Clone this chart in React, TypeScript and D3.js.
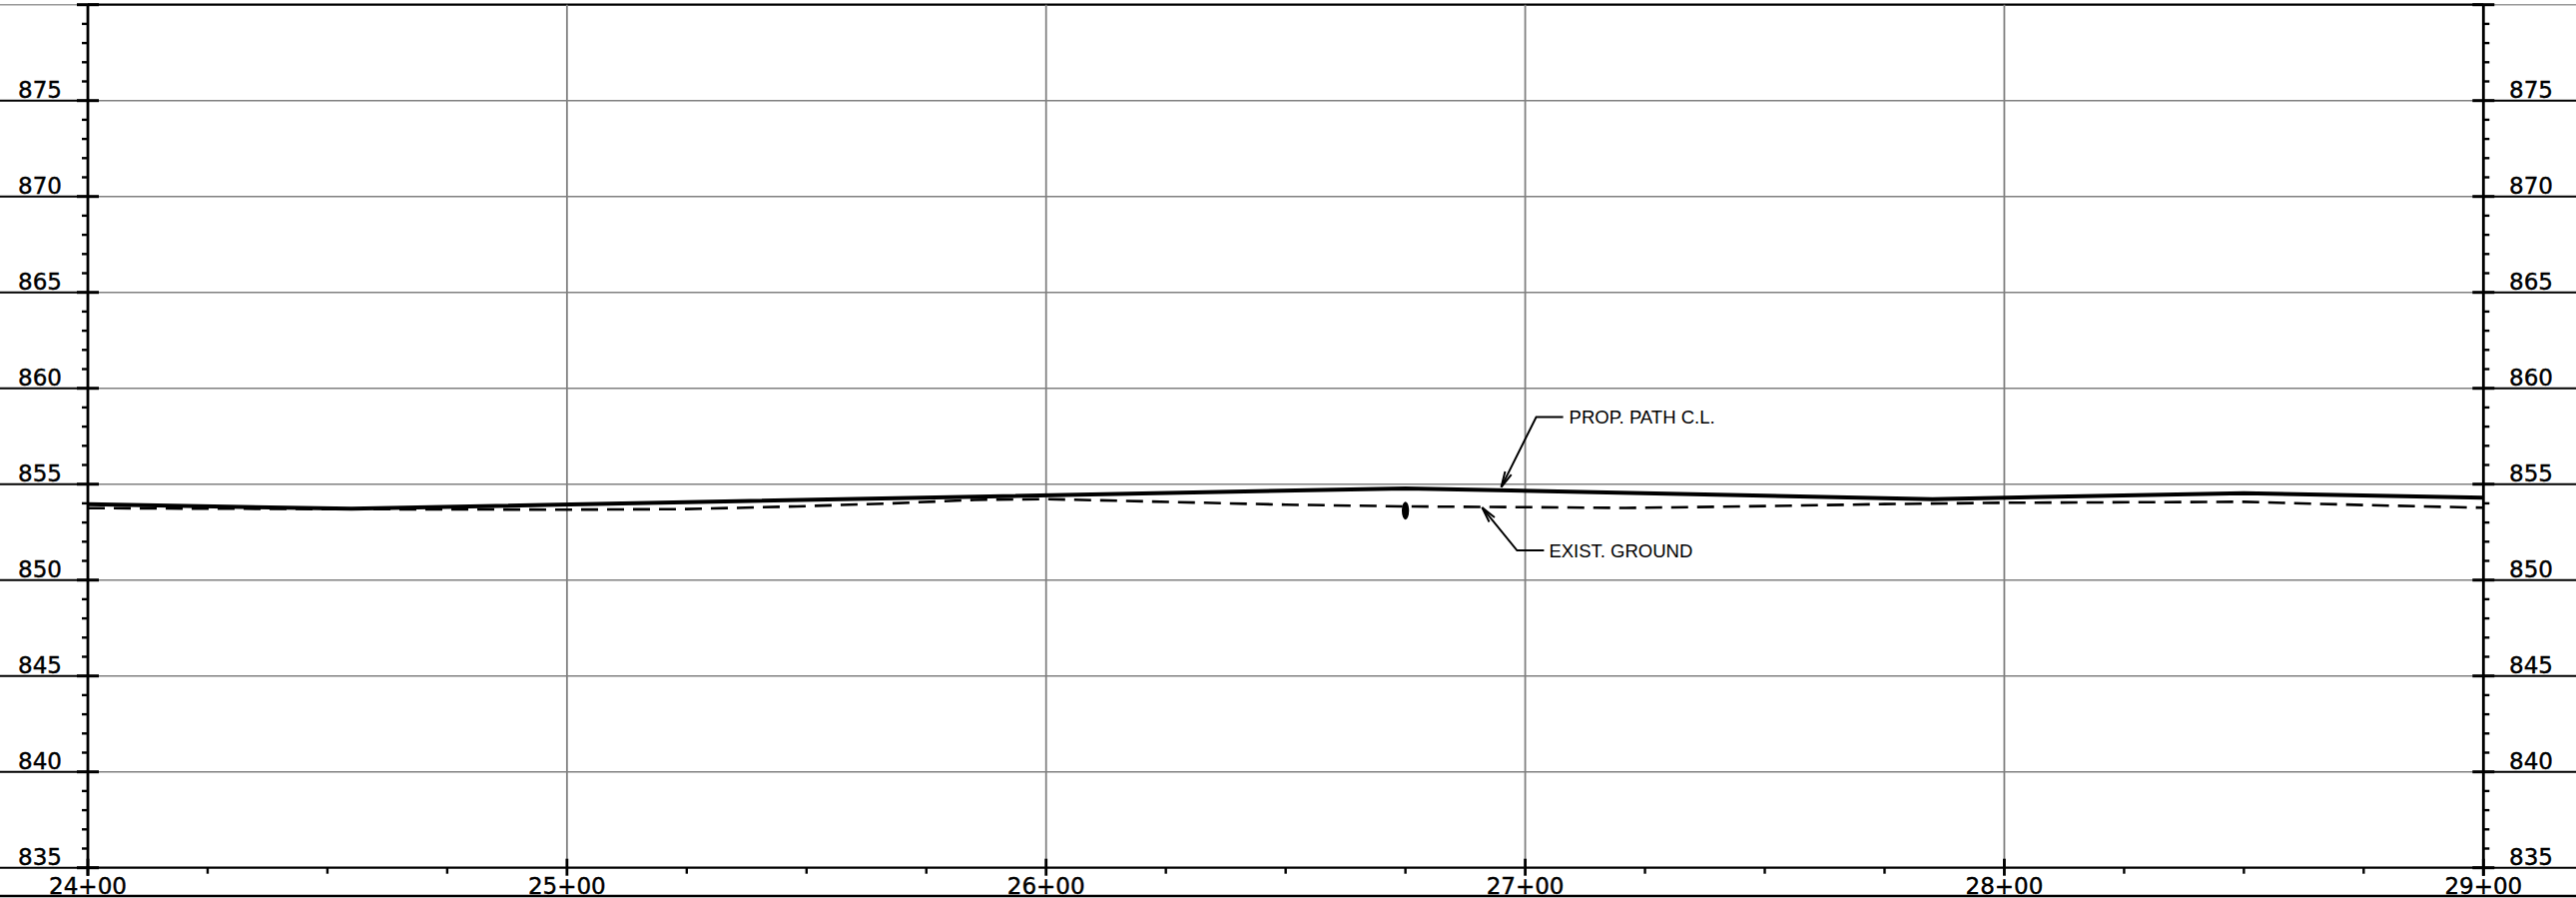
import React from "react";
import * as d3 from "d3";

const stationTicks = [2400, 2500, 2600, 2700, 2800, 2900];
const stationLabels = ["24+00", "25+00", "26+00", "27+00", "28+00", "29+00"];
const elevTicks = [835, 840, 845, 850, 855, 860, 865, 870, 875, 880];
const elevLabels = ["835", "840", "845", "850", "855", "860", "865", "870", "875", ""];

const propStations = [2400, 2455, 2675, 2785, 2850, 2900];
const propElev = [853.95, 853.72, 854.78, 854.22, 854.53, 854.29];

const groundStations = [2400, 2450, 2500, 2525, 2548, 2568, 2585, 2600, 2621, 2650, 2675, 2700, 2721, 2746, 2775, 2800, 2850, 2875, 2900];
const groundElev = [853.75, 853.7, 853.67, 853.7, 853.84, 854.0, 854.18, 854.22, 854.1, 853.93, 853.84, 853.8, 853.76, 853.84, 853.96, 854.03, 854.08, 853.91, 853.77];

const markerStation = [2675];
const markerElev = [853.62];

const annotLabels = ["PROP. PATH C.L.", "EXIST. GROUND"];
const annotStation = [2695, 2691];
const annotElev = [854.85, 853.78];

const W = 2580;
const H = 899;

export default function App() {
  const x = d3.scaleLinear().domain([2400, 2900]).range([88, 2487.3]);
  const y = d3.scaleLinear().domain([835, 880]).range([868.7, 4.7]);
  const xL = x(2400);
  const xR = x(2900);
  const yTop = y(880);
  const yBot = y(835);

  const minorY = d3.range(836, 880).filter((v) => v % 5 !== 0);
  const minorX = d3.range(2425, 2900, 25).filter((v) => v % 100 !== 0);

  const propData = propStations.map((s, i) => [s, propElev[i]] as [number, number]);
  const groundData = groundStations.map((s, i) => [s, groundElev[i]] as [number, number]);
  const line = d3
    .line<[number, number]>()
    .x((d) => x(d[0]))
    .y((d) => y(d[1]));

  // leader geometry (pixel offsets from tip)
  const leaders = [
    { dx1: 35, dy1: -70, dx2: 62, tx: 68 },
    { dx1: 35, dy1: 43, dx2: 62, tx: 67 },
  ];

  const arrowHead = (tx: number, ty: number, fx: number, fy: number) => {
    const ang = Math.atan2(fy - ty, fx - tx);
    const len = 16;
    const spread = 0.22;
    const a1 = ang + spread;
    const a2 = ang - spread;
    return `M${tx + len * Math.cos(a1)},${ty + len * Math.sin(a1)}L${tx},${ty}L${tx + len * Math.cos(a2)},${ty + len * Math.sin(a2)}`;
  };

  const numFont = "'DejaVu Sans', sans-serif";
  const txtFont = "'Liberation Sans', Arial, sans-serif";

  return (
    <svg
      width={W}
      height={H}
      style={{ position: "absolute", left: 0, top: 0, background: "#fff" }}
    >
      <rect x={0} y={0} width={W} height={H} fill="#fff" />
      {/* horizontal grid */}
      {elevTicks.map((v) => {
        const yy = y(v);
        const isTop = v === 880;
        const isBot = v === 835;
        const inColor = isTop || isBot ? "#000" : "#808080";
        const outColor = isTop ? "#9a9a9a" : "#000";
        return (
          <g key={"h" + v}>
            <line x1={xL} x2={xR} y1={yy} y2={yy} stroke={inColor} strokeWidth={isTop || isBot ? 2.2 : 1.6} />
            <line x1={0} x2={xL} y1={yy} y2={yy} stroke={outColor} strokeWidth={isTop ? 1.4 : 2} />
            <line x1={xR} x2={W} y1={yy} y2={yy} stroke={outColor} strokeWidth={isTop ? 1.4 : 2} />
          </g>
        );
      })}
      {/* vertical grid */}
      {stationTicks.slice(1, -1).map((s) => (
        <line key={"v" + s} x1={x(s)} x2={x(s)} y1={yTop} y2={yBot} stroke="#808080" strokeWidth={1.8} />
      ))}
      {/* bottom frame line */}
      <line x1={0} x2={W} y1={897} y2={897} stroke="#000" strokeWidth={2.5} />
      {/* axes */}
      <line x1={xL} x2={xL} y1={yTop} y2={yBot + 8} stroke="#000" strokeWidth={2.8} />
      <line x1={xR} x2={xR} y1={yTop} y2={yBot + 8} stroke="#000" strokeWidth={2.8} />
      {/* y major ticks */}
      {elevTicks.map((v) => (
        <g key={"ym" + v}>
          <line x1={xL - 11} x2={xL + 11} y1={y(v)} y2={y(v)} stroke="#000" strokeWidth={3} />
          <line x1={xR - 11} x2={xR + 11} y1={y(v)} y2={y(v)} stroke="#000" strokeWidth={3} />
        </g>
      ))}
      {/* y minor ticks */}
      {minorY.map((v) => (
        <g key={"yn" + v}>
          <line x1={xL - 6} x2={xL} y1={y(v)} y2={y(v)} stroke="#000" strokeWidth={2.4} />
          <line x1={xR} x2={xR + 6} y1={y(v)} y2={y(v)} stroke="#000" strokeWidth={2.4} />
        </g>
      ))}
      {/* x major ticks */}
      {stationTicks.map((s) => (
        <line key={"xm" + s} x1={x(s)} x2={x(s)} y1={yBot - 9} y2={yBot + 8} stroke="#000" strokeWidth={2.8} />
      ))}
      {/* x minor ticks */}
      {minorX.map((s) => (
        <line key={"xn" + s} x1={x(s)} x2={x(s)} y1={yBot} y2={yBot + 6} stroke="#000" strokeWidth={2.4} />
      ))}
      {/* y labels */}
      {elevTicks.map((v, i) =>
        elevLabels[i] ? (
          <g key={"yl" + v}>
            <text x={62} y={y(v) - 2.5} textAnchor="end" fontFamily={numFont} fontSize={23} fill="#000" stroke="#000" strokeWidth={0.4}>
              {elevLabels[i]}
            </text>
            <text x={2513} y={y(v) - 2.5} textAnchor="start" fontFamily={numFont} fontSize={23} fill="#000" stroke="#000" strokeWidth={0.4}>
              {elevLabels[i]}
            </text>
          </g>
        ) : null
      )}
      {/* x labels */}
      {stationTicks.map((s, i) => (
        <text key={"xl" + s} x={x(s)} y={894.5} textAnchor="middle" fontFamily={numFont} fontSize={23} fill="#000" stroke="#000" strokeWidth={0.4}>
          {stationLabels[i]}
        </text>
      ))}
      {/* existing ground */}
      <path d={line(groundData) || ""} fill="none" stroke="#000" strokeWidth={2.6} strokeDasharray="17 9" />
      {/* proposed */}
      <path d={line(propData) || ""} fill="none" stroke="#000" strokeWidth={4} strokeLinejoin="round" />
      {/* marker */}
      {markerStation.map((s, i) => (
        <ellipse key={"mk" + i} cx={x(s)} cy={y(markerElev[i])} rx={3.6} ry={9} fill="#000" />
      ))}
      {/* annotations */}
      {annotLabels.map((lab, i) => {
        const tx = x(annotStation[i]);
        const ty = y(annotElev[i]);
        const L = leaders[i];
        const ex = tx + L.dx1;
        const ey = ty + L.dy1;
        return (
          <g key={"an" + i}>
            <path d={`M${tx},${ty}L${ex},${ey}L${tx + L.dx2},${ey}`} fill="none" stroke="#000" strokeWidth={2} />
            <path d={arrowHead(tx, ty, ex, ey)} fill="none" stroke="#000" strokeWidth={2} />
            <text x={tx + L.tx} y={ey} dy="0.36em" fontFamily={txtFont} fontSize={18.5} fill="#000">
              {lab}
            </text>
          </g>
        );
      })}
    </svg>
  );
}
